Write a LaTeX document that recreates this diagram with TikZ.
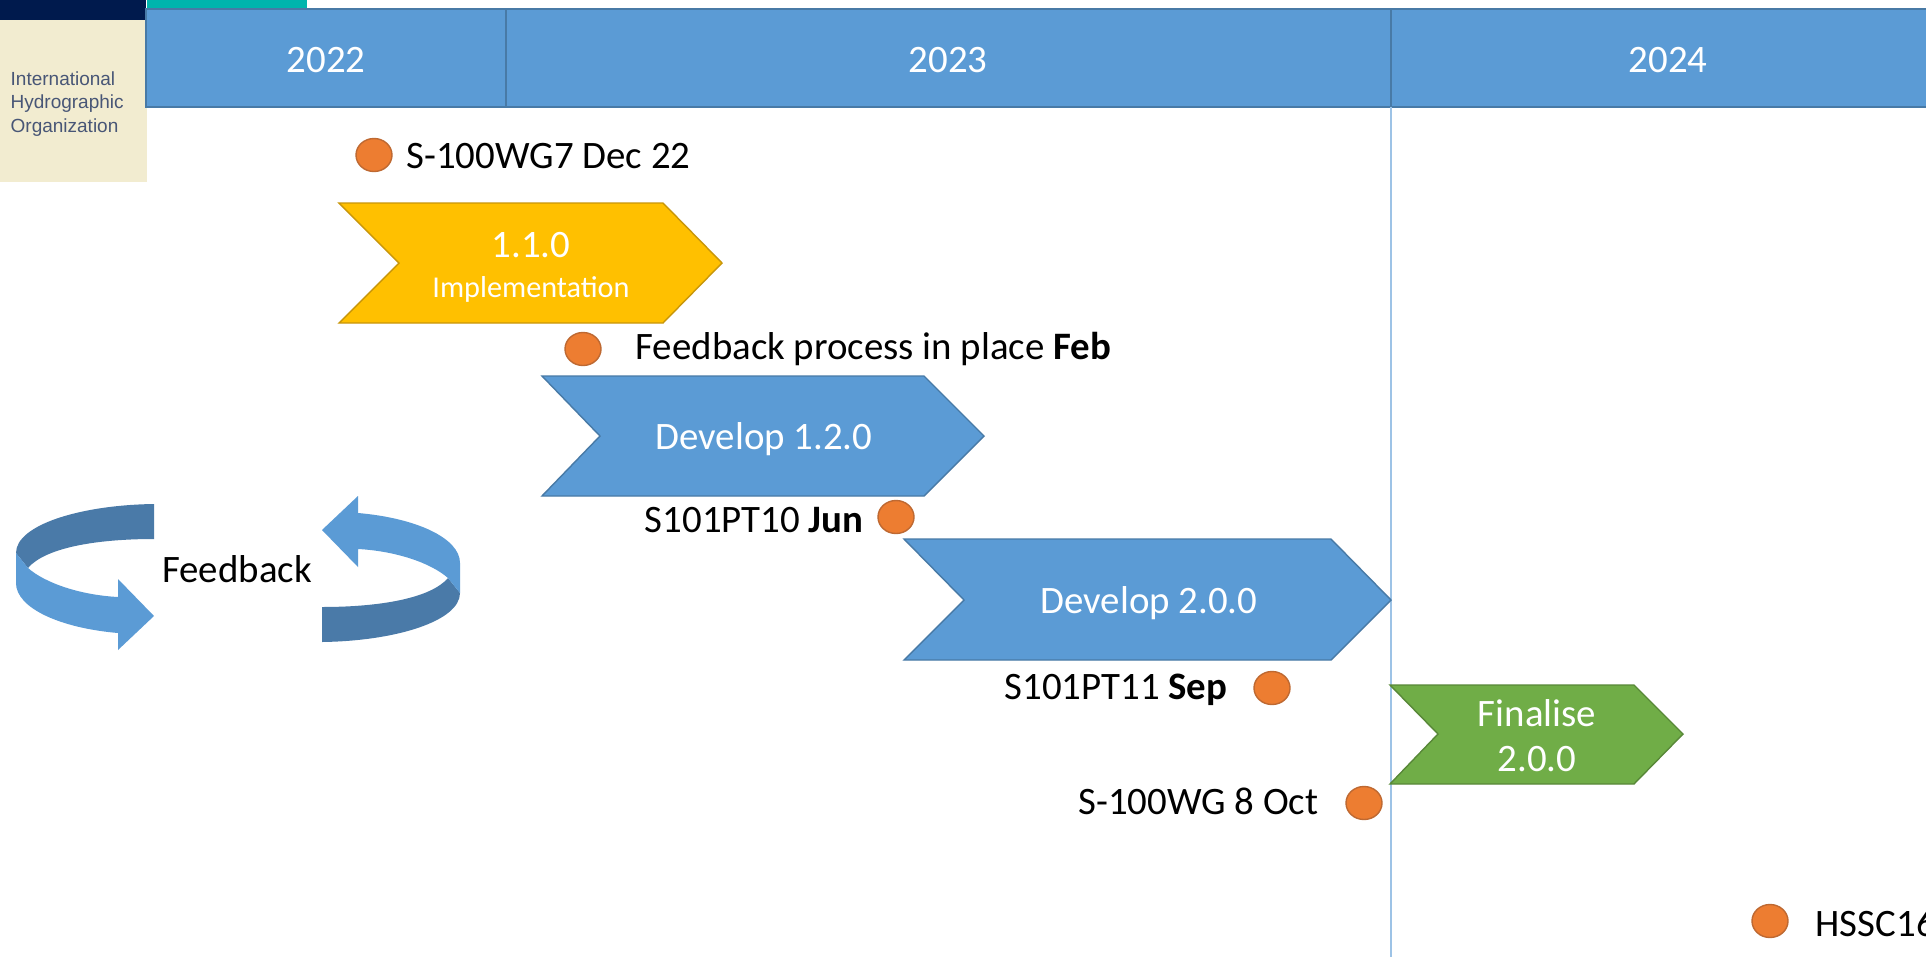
\documentclass[tikz,border=0pt]{standalone}
\usepackage{fontspec}
\setmainfont{Carlito}
\newfontfamily\logofont{Liberation Sans}
\usetikzlibrary{shapes.geometric}
\definecolor{hdblue}{RGB}{91,155,213}
\definecolor{hdedge}{RGB}{72,122,166}
\definecolor{hddark}{RGB}{74,122,168}
\definecolor{iholine}{RGB}{157,195,230}
\definecolor{ihonavy}{RGB}{0,26,77}
\definecolor{ihoteal}{RGB}{0,181,173}
\definecolor{ihobeige}{RGB}{242,236,208}
\definecolor{ihotext}{RGB}{72,86,118}
\definecolor{ptorange}{RGB}{237,125,49}
\definecolor{ptedge}{RGB}{190,105,50}
\definecolor{ptgold}{RGB}{255,192,0}
\definecolor{ptgoldedge}{RGB}{200,150,10}
\definecolor{ptgreen}{RGB}{112,173,71}
\definecolor{ptgreenedge}{RGB}{88,136,56}
\tikzset{
  dotmark/.style={ellipse, draw=ptedge, fill=ptorange, line width=0.4pt, inner sep=0pt, minimum width=0.36cm, minimum height=0.33cm},
  msgtext/.style={font=\fontsize{11.05}{13}\selectfont, text=black, inner sep=0pt},
  bartext/.style={font=\fontsize{11.05}{13}\selectfont, text=white, inner sep=0pt},
  logotext/.style={font=\logofont\fontsize{5.4}{6.5}\selectfont, text=ihotext, inner sep=0pt, anchor=west},
  bluebar/.style={draw=hdedge, fill=hdblue, line width=0.4pt},
}
\begin{document}
\begin{tikzpicture}[x=0.01cm,y=-0.01cm]
\useasboundingbox (0,0) rectangle (1926,969);
\fill[white] (0,0) rectangle (1926,969);
% -- Logo block --
\fill[ihobeige] (0,20) rectangle (147,182);
\fill[ihonavy] (0,0) rectangle (146,20);
\fill[ihoteal] (147,0) rectangle (307,9);
\node[logotext] (logoa) at (10,79) {International};
\node[logotext] (logob) at (10,104) {Hydrographic};
\node[logotext] (logoc) at (10,128) {Organization};
% -- Year header --
\draw[bluebar] (146,9) rectangle (1930,107);
\draw[hdedge] (506,9) -- (506,107);
\draw[hdedge] (1391,9) -- (1391,107);
\node[bartext] (yeara) at (326,60) {2022};
\node[bartext] (yearb) at (948,60) {2023};
\node[bartext] (yearc) at (1668,60) {2024};
\coordinate (nowtop) at (1391,107);
\coordinate (nowend) at (1391,957);
\draw[iholine, line width=0.7pt] (nowtop) -- (nowend);
% -- Phases --
\draw[draw=ptgoldedge, fill=ptgold, line width=0.4pt]
  (339,203) -- (663,203) -- (722,263) -- (663,323) -- (339,323) -- (399,263) -- cycle;
\node[bartext] (phasea) at (531,245) {1.1.0};
\node[bartext, font=\fontsize{8.6}{10}\selectfont] (phaseb) at (531,289) {Implementation};
\draw[bluebar] (542,376) -- (924,376) -- (984,436) -- (924,496) -- (542,496) -- (600,436) -- cycle;
\node[bartext] (devone) at (764,439) {Develop 1.2.0};
\draw[bluebar] (904,539) -- (1331,539) -- (1391,600) -- (1331,660) -- (904,660) -- (964,600) -- cycle;
\node[bartext] (devtwo) at (1149,603) {Develop 2.0.0};
\draw[draw=ptgreenedge, fill=ptgreen, line width=0.4pt]
  (1390,685) -- (1634,685) -- (1683,734) -- (1634,784) -- (1390,784) -- (1438,734) -- cycle;
\node[bartext] (finala) at (1537,713) {Finalise};
\node[bartext] (finalb) at (1537,759) {2.0.0};
% -- Milestones --
\node[dotmark] (dotwg) at (374,155) {};
\node[msgtext, anchor=west] (msgwg) at (406,156) {S-100WG7 Dec 22};
\node[dotmark] (dotfb) at (583,349) {};
\node[msgtext, anchor=west] (msgfb) at (635,349) {Feedback process in place \textbf{Feb}};
\node[dotmark] (dotjun) at (896,517) {};
\node[msgtext, anchor=east] (msgjun) at (864,520) {S101PT10 \textbf{Jun}};
\node[dotmark] (dotsep) at (1272,688) {};
\node[msgtext, anchor=east] (msgsep) at (1228,690) {S101PT11 \textbf{Sep}};
\node[dotmark] (dotoct) at (1364,803) {};
\node[msgtext, anchor=east] (msgoct) at (1319,801) {S-100WG 8 Oct};
\node[dotmark] (dothssc) at (1770,921) {};
\node[msgtext, anchor=west] (msghssc) at (1815,924) {HSSC16};
% -- Feedback loop --
\node[msgtext] (loopname) at (237,569) {Feedback};
\foreach \turn in {0,180} {
  \begin{scope}[rotate around={\turn:(238,573)}]
    \fill[hddark] (154,504) .. controls (80,505) and (16,525) .. (16,553) -- (28,568)
      .. controls (45,548) and (95,539) .. (154,539) -- cycle;
    \fill[hdblue] (16,553) -- (28,568) .. controls (45,583) and (80,595) .. (118,597)
      -- (118,579) -- (154,616) -- (118,650) -- (118,633)
      .. controls (60,628) and (16,608) .. (16,583) -- cycle;
  \end{scope}
}
\end{tikzpicture}
\end{document}
